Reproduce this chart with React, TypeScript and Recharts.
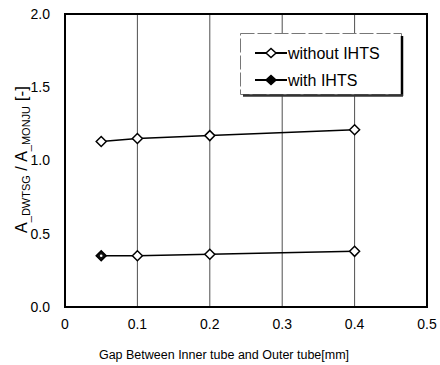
import React from "react";
import {
  LineChart,
  Line,
  XAxis,
  YAxis,
  CartesianGrid,
  ReferenceArea,
  Legend,
  Label,
} from "recharts";

const gaps = [0.05, 0.1, 0.2, 0.4];
const withoutIHTS = [1.13, 1.15, 1.17, 1.21];
const withIHTS = [0.35, 0.35, 0.36, 0.38];
const xTicks = [0, 0.1, 0.2, 0.3, 0.4, 0.5];
const yTicks = [0, 0.5, 1.0, 1.5, 2.0];
const seriesNames = ["without IHTS", "with IHTS"];

const data = gaps.map((g, i) => ({
  gap: g,
  without: withoutIHTS[i],
  with: withIHTS[i],
}));

const FONT = "'Liberation Sans', Arial, Helvetica, sans-serif";

const diamond = (cx: number, cy: number, w = 5, h = 5) =>
  `M${cx - w},${cy} L${cx},${cy - h} L${cx + w},${cy} L${cx},${cy + h} Z`;

const OpenDot = (props: any) => {
  const { cx, cy, index } = props;
  if (cx == null || cy == null) return null;
  return (
    <path
      key={`o${index}`}
      d={diamond(cx, cy)}
      fill="#fff"
      stroke="#000"
      strokeWidth={1.5}
    />
  );
};

const LowerDot = (props: any) => {
  const { cx, cy, index } = props;
  if (cx == null || cy == null) return null;
  if (index === 0) {
    return (
      <g key={`l${index}`}>
        <path d={diamond(cx, cy)} fill="#111" stroke="#000" strokeWidth={1.5} />
        <circle cx={cx} cy={cy} r={1.3} fill="#fff" />
      </g>
    );
  }
  return (
    <path
      key={`l${index}`}
      d={diamond(cx, cy)}
      fill="#fff"
      stroke="#000"
      strokeWidth={1.5}
    />
  );
};

const LegendBox = () => {
  const rows = seriesNames.map((name, i) => (
    <g key={name} transform={`translate(0, ${i * 27})`}>
      <line x1={15} y1={20} x2={47} y2={20} stroke="#000" strokeWidth={2} />
      <path
        d={diamond(31, 20, 5, 4.5)}
        fill={i === 0 ? "#fff" : "#000"}
        stroke="#000"
        strokeWidth={1.5}
      />
      <text x={48} y={25.5} fontSize={16} fontFamily={FONT} fill="#000">
        {name}
      </text>
    </g>
  ));
  return (
    <svg width={166} height={66} style={{ display: "block" }}>
      <rect x={0.5} y={0.5} width={161} height={61} fill="#fff" stroke="#777" strokeWidth={1} strokeDasharray="14 3" />
      <line x1={162} y1={3} x2={162} y2={63} stroke="#000" strokeWidth={2.5} />
      <line x1={3} y1={62.5} x2={163} y2={62.5} stroke="#333" strokeWidth={2.5} />
      {rows}
    </svg>
  );
};

const YLabel = (props: any) => {
  const vb = props.viewBox || {};
  const cx = 27;
  const cy = vb.y + vb.height / 2 - 1;
  return (
    <text
      x={cx}
      y={cy}
      transform={`rotate(-90, ${cx}, ${cy})`}
      textAnchor="middle"
      fontFamily={FONT}
      fontSize={16}
      fill="#000"
    >
      <tspan>A</tspan>
      <tspan fontSize={11} dy={3}>_DWTSG</tspan>
      <tspan dy={-3}>{"\u00a0/\u00a0A"}</tspan>
      <tspan fontSize={11} dy={3}>_MONJU</tspan>
      <tspan dy={-3} fontSize={17}>{"\u00a0[-]"}</tspan>
    </text>
  );
};

const XLabel = (props: any) => {
  const vb = props.viewBox || {};
  return (
    <text
      x={vb.x + vb.width / 2 - 22}
      y={359}
      textAnchor="middle"
      fontFamily={FONT}
      fontSize={12.5}
      fill="#000"
    >
      Gap Between Inner tube and Outer tube[mm]
    </text>
  );
};

export default function App() {
  return (
    <div style={{ width: 440, height: 365, background: "#fff" }}>
      <style>{`body{margin:0;background:#fff}`}</style>
      <LineChart
        width={440}
        height={365}
        data={data}
        margin={{ top: 14, right: 13, bottom: 28, left: 15 }}
      >
        <CartesianGrid
          horizontal={false}
          vertical={true}
          stroke="#222"
          strokeWidth={0.8}
        />
        <XAxis
          dataKey="gap"
          type="number"
          domain={[0, 0.5]}
          ticks={xTicks}
          axisLine={false}
          tickLine={false}
          tickSize={0}
          tickMargin={12}
          height={30}
          tickFormatter={(v: number) => (v === 0 ? "0" : v.toFixed(1))}
          tick={{ fontSize: 14, fill: "#000", fontFamily: FONT }}
        >
          <Label content={XLabel} />
        </XAxis>
        <YAxis
          type="number"
          domain={[0, 2]}
          ticks={yTicks}
          axisLine={false}
          tickLine={false}
          tickSize={0}
          tickMargin={15}
          width={50}
          tickFormatter={(v: number) => v.toFixed(1)}
          tick={{ fontSize: 14, fill: "#000", fontFamily: FONT }}
        >
          <Label content={YLabel} />
        </YAxis>
        <ReferenceArea
          x1={0}
          x2={0.5}
          y1={0}
          y2={2}
          fill="none"
          fillOpacity={0}
          stroke="#000"
          strokeWidth={2}
        />
        <Line
          type="linear"
          dataKey="without"
          name={seriesNames[0]}
          stroke="#000"
          strokeWidth={1.5}
          dot={OpenDot}
          activeDot={false}
          isAnimationActive={false}
        />
        <Line
          type="linear"
          dataKey="with"
          name={seriesNames[1]}
          stroke="#000"
          strokeWidth={1.5}
          dot={LowerDot}
          activeDot={false}
          isAnimationActive={false}
        />
        <Legend
          layout="vertical"
          align="center"
          verticalAlign="middle"
          content={LegendBox}
          wrapperStyle={{ position: "absolute", left: 240, top: 33, width: 166, height: 66 }}
        />
      </LineChart>
    </div>
  );
}
